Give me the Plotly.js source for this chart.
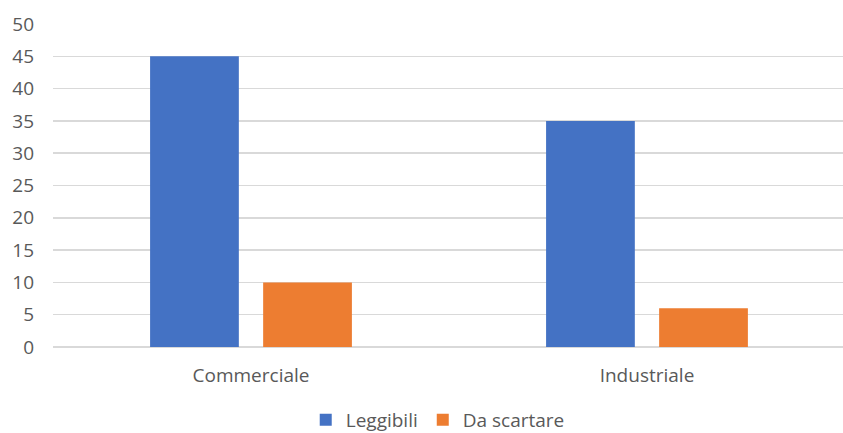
<!DOCTYPE html>
<html>
<head>
<meta charset="utf-8">
<script src="https://cdn.plot.ly/plotly-3.0.1.min.js"></script>
<style>
  html, body { margin: 0; padding: 0; background: #ffffff; }
  #chart { width: 843px; height: 433px; }
</style>
</head>
<body>
<div id="chart"></div>
<script>
// Categorie e serie
const categorie = ['Commerciale', 'Industriale'];
const leggibili = [45, 35];
const daScartare = [10, 6];
const nomiSerie = ['Leggibili', 'Da scartare'];

const testo = '#595959';
const griglia = '#d9d9d9';
const font = 'Open Sans, Liberation Sans, sans-serif';

const data = [
  {
    type: 'bar',
    name: nomiSerie[0],
    x: categorie,
    y: leggibili,
    marker: { color: '#4472C4' },
    hoverinfo: 'x+y+name'
  },
  {
    type: 'bar',
    name: nomiSerie[1],
    x: categorie,
    y: daScartare,
    marker: { color: '#ED7D31' },
    hoverinfo: 'x+y+name'
  }
];

const layout = {
  width: 843,
  height: 433,
  margin: { l: 53, r: 0, t: 24, b: 86, autoexpand: false },
  paper_bgcolor: '#ffffff',
  plot_bgcolor: '#ffffff',
  barmode: 'group',
  bargap: 0.429,
  bargroupgap: 0.215,
  font: { family: font, size: 19, color: testo },
  showlegend: true,
  legend: {
    orientation: 'h',
    x: 0.487, xanchor: 'center',
    y: -0.226, yanchor: 'middle',
    font: { family: font, size: 19, color: testo },
    itemwidth: 30,
    traceorder: 'normal'
  },
  xaxis: {
    type: 'category',
    range: [-0.5, 1.495],
    showgrid: false,
    zeroline: false,
    showline: false,
    ticks: '',
    ticklabelstandoff: 15,
    tickfont: { family: font, size: 19, color: testo }
  },
  yaxis: {
    range: [0, 50],
    dtick: 5,
    showgrid: true,
    gridcolor: griglia,
    gridwidth: 1.5,
    zeroline: true,
    zerolinecolor: griglia,
    zerolinewidth: 1.5,
    showline: false,
    ticks: '',
    ticklabelstandoff: 18,
    tickfont: { family: font, size: 19, color: testo }
  }
};

Plotly.newPlot('chart', data, layout, { displayModeBar: false, staticPlot: true });
</script>
</body>
</html>
